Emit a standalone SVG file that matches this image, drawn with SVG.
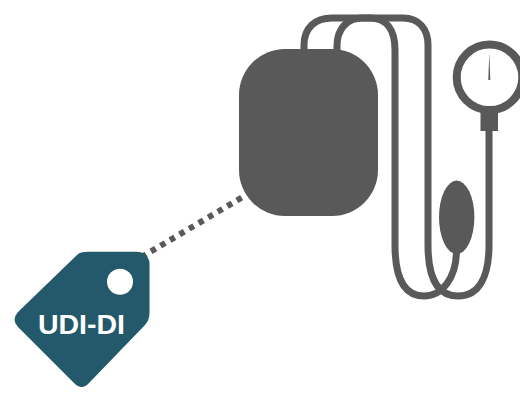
<svg xmlns="http://www.w3.org/2000/svg" width="520" height="394" viewBox="0 0 520 394">
  <style>
    .fill { fill: #595959; }
    .tube { fill: none; stroke: #595959; stroke-width: 7; }
    .label { font-family: "Liberation Sans", Arial, sans-serif; font-weight: 700; font-size: 28.500px; fill: #ffffff; text-anchor: middle; }
  </style>
  <g id="connectors">
    <path d="M141.400 257.100L241.700 197.600" fill="none" stroke="#595959" stroke-width="6" stroke-dasharray="5.500 5.600"/>
  </g>
  <g id="device">
    <path class="tube" d="M304 52V45C304 28 315 18 332 18H403C419 18 428 29 428 45V245C428 275 436 296 458 296C480 296 489 275 489 245V128"/>
    <path class="tube" d="M337 52V46C337 28 348 18 362 18H370C386 18 395 29 395 50V245C395 278 404 296 424 296C442 296 456.500 278 456.500 250"/>
    <rect class="fill" x="239" y="49" width="139" height="167" rx="46" ry="46"/>
    <ellipse class="fill" cx="456.700" cy="217.300" rx="17.700" ry="36.700"/>
    <circle cx="489.500" cy="77.300" r="32.800" fill="#ffffff" stroke="#595959" stroke-width="8"/>
    <rect class="fill" x="480.500" y="109" width="17.500" height="22"/>
    <path class="fill" d="M489.300 52L490.300 80H488.300Z"/>
  </g>
  <g id="tag">
    <path d="M88 251.700H136Q143 251.700 146.500 256L148 258Q149.500 260 149.500 264V313Q149.500 320 145 325L89 383Q81.700 391 74 383L18 327Q11 320 18 312L77 255Q80 251.700 88 251.700Z" fill="#23596b"/>
    <circle cx="120" cy="281.700" r="13" fill="#ffffff"/>
    <text class="label" x="81.500" y="334">UDI-DI</text>
  </g>
</svg>
